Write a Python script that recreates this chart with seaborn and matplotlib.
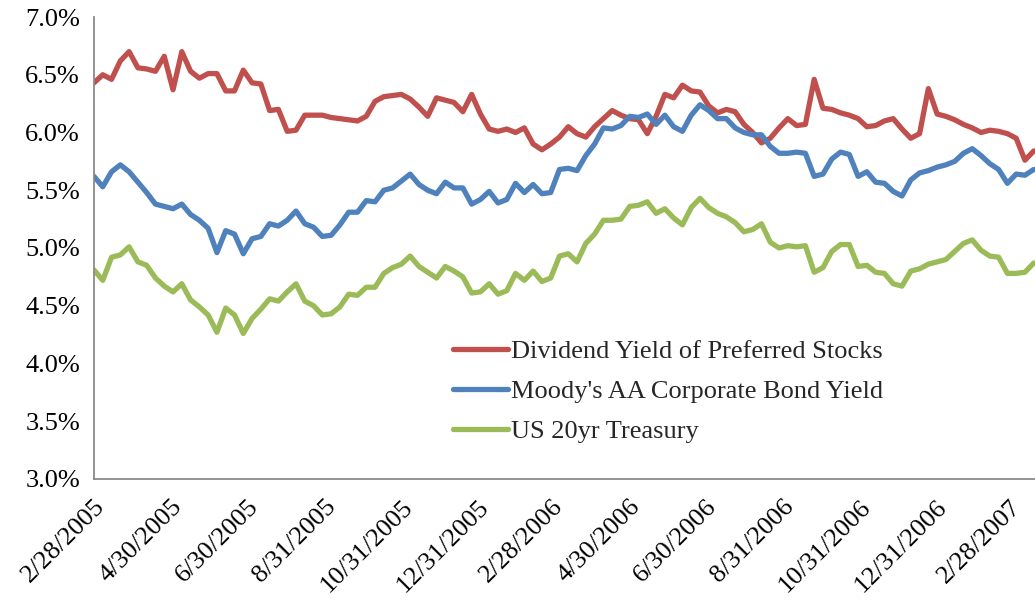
import pandas as pd
import numpy as np
import matplotlib
matplotlib.use("Agg")
import matplotlib.pyplot as plt
import matplotlib.ticker as mticker
import seaborn as sns

# weekly observations, starting 2/28/2005
start_date = "2005-02-28"
n_weeks = 108

dividend_yield = [
    6.43, 6.50, 6.46, 6.62, 6.70, 6.56, 6.55, 6.53, 6.66, 6.37,
    6.70, 6.53, 6.47, 6.51, 6.51, 6.36, 6.36, 6.54, 6.43, 6.42,
    6.19, 6.20, 6.01, 6.02, 6.15, 6.15, 6.15, 6.13, 6.12, 6.11,
    6.10, 6.14, 6.27, 6.31, 6.32, 6.33, 6.29, 6.22, 6.14, 6.30,
    6.28, 6.26, 6.18, 6.33, 6.16, 6.03, 6.01, 6.03, 6.00, 6.04,
    5.90, 5.85, 5.90, 5.96, 6.05, 5.99, 5.96, 6.05, 6.12, 6.19,
    6.15, 6.12, 6.11, 5.99, 6.14, 6.33, 6.30, 6.41, 6.36, 6.35,
    6.23, 6.17, 6.20, 6.18, 6.07, 6.00, 5.91, 5.95, 6.04, 6.12,
    6.06, 6.07, 6.46, 6.21, 6.20, 6.17, 6.15, 6.12, 6.05, 6.06,
    6.10, 6.12, 6.03, 5.95, 5.99, 6.38, 6.16, 6.14, 6.11, 6.07,
    6.04, 6.00, 6.02, 6.01, 5.99, 5.95, 5.76, 5.84,
]

moodys_aa = [
    5.62, 5.53, 5.66, 5.72, 5.66, 5.57, 5.48, 5.38, 5.36, 5.34,
    5.38, 5.29, 5.24, 5.17, 4.96, 5.15, 5.12, 4.95, 5.08, 5.10,
    5.21, 5.19, 5.24, 5.32, 5.21, 5.18, 5.10, 5.11, 5.20, 5.31,
    5.31, 5.41, 5.40, 5.50, 5.52, 5.58, 5.64, 5.55, 5.50, 5.47,
    5.57, 5.52, 5.52, 5.38, 5.42, 5.49, 5.39, 5.42, 5.56, 5.48,
    5.55, 5.47, 5.48, 5.68, 5.69, 5.67, 5.80, 5.90, 6.04, 6.03,
    6.06, 6.14, 6.13, 6.16, 6.07, 6.15, 6.05, 6.01, 6.15, 6.24,
    6.19, 6.12, 6.12, 6.04, 6.00, 5.98, 5.98, 5.88, 5.82, 5.82,
    5.83, 5.82, 5.62, 5.64, 5.77, 5.83, 5.81, 5.62, 5.66, 5.57,
    5.56, 5.49, 5.45, 5.59, 5.65, 5.67, 5.70, 5.72, 5.75, 5.82,
    5.86, 5.80, 5.73, 5.68, 5.56, 5.64, 5.63, 5.68,
]

treasury_20yr = [
    4.81, 4.72, 4.92, 4.94, 5.01, 4.88, 4.85, 4.74, 4.67, 4.62,
    4.69, 4.55, 4.49, 4.42, 4.27, 4.48, 4.42, 4.26, 4.39, 4.47,
    4.56, 4.54, 4.62, 4.69, 4.54, 4.50, 4.42, 4.43, 4.49, 4.60,
    4.59, 4.66, 4.66, 4.78, 4.83, 4.86, 4.93, 4.84, 4.79, 4.74,
    4.84, 4.80, 4.75, 4.61, 4.62, 4.69, 4.60, 4.63, 4.78, 4.72,
    4.80, 4.71, 4.74, 4.93, 4.95, 4.88, 5.04, 5.12, 5.24, 5.24,
    5.25, 5.36, 5.37, 5.40, 5.30, 5.34, 5.26, 5.20, 5.35, 5.43,
    5.35, 5.30, 5.27, 5.22, 5.14, 5.16, 5.21, 5.05, 5.00, 5.02,
    5.01, 5.02, 4.79, 4.83, 4.97, 5.03, 5.03, 4.84, 4.85, 4.79,
    4.78, 4.69, 4.67, 4.80, 4.82, 4.86, 4.88, 4.90, 4.97, 5.04,
    5.07, 4.98, 4.93, 4.92, 4.78, 4.78, 4.79, 4.87,
]

series_names = [
    "Dividend Yield of Preferred Stocks",
    "Moody's AA Corporate Bond Yield",
    "US 20yr Treasury",
]
series_colors = ["#C0504D", "#4F81BD", "#9BBB59"]

tick_dates = [
    "2/28/2005", "4/30/2005", "6/30/2005", "8/31/2005", "10/31/2005",
    "12/31/2005", "2/28/2006", "4/30/2006", "6/30/2006", "8/31/2006",
    "10/31/2006", "12/31/2006", "2/28/2007",
]
y_ticks = [3.0, 3.5, 4.0, 4.5, 5.0, 5.5, 6.0, 6.5, 7.0]

dates = pd.date_range(start_date, periods=n_weeks, freq="7D")
df = pd.concat([
    pd.DataFrame({"Date": dates, "Yield": vals, "Series": name})
    for name, vals in zip(series_names, [dividend_yield, moodys_aa, treasury_20yr])
], ignore_index=True)

sns.set_theme(style="white")
plt.rcParams.update({
    "font.family": ["Liberation Serif", "DejaVu Serif"],
    "font.size": 19,
    "axes.edgecolor": "#868686",
    "axes.spines.right": False,
    "axes.spines.top": False,
})

fig = plt.figure(figsize=(10.35, 6.05), dpi=100)
ax = fig.add_axes([0.0908, 0.2083, 0.9092, 0.7636])

sns.lineplot(
    data=df, x="Date", y="Yield", hue="Series",
    hue_order=series_names, palette=series_colors,
    linewidth=3.8, ax=ax,
)

ax.set_ylim(3.0, 7.0)
ax.set_yticks(y_ticks)
ax.yaxis.set_major_formatter(mticker.FuncFormatter(lambda v, _: f"{v:.1f}%"))
ax.set_xlim(pd.Timestamp("2005-02-28"), pd.Timestamp("2007-03-20"))
ax.set_xticks(pd.to_datetime(tick_dates, format="%m/%d/%Y"))
ax.set_xticklabels(tick_dates, rotation=45, ha="right", rotation_mode="anchor")
ax.tick_params(axis="both", labelsize=19, colors="#868686", labelcolor="black",
               direction="out", length=6, width=1)
ax.tick_params(axis="y", pad=4)
ax.tick_params(axis="x", length=7, pad=5)
ax.set_xlabel("")
ax.set_ylabel("")

ax.legend(
    loc="upper left", bbox_to_anchor=(0.356, 0.353), frameon=False,
    fontsize=19, handlelength=2.1, handletextpad=0.1, labelspacing=0.62,
)

fig.savefig("out.png", dpi=100)
